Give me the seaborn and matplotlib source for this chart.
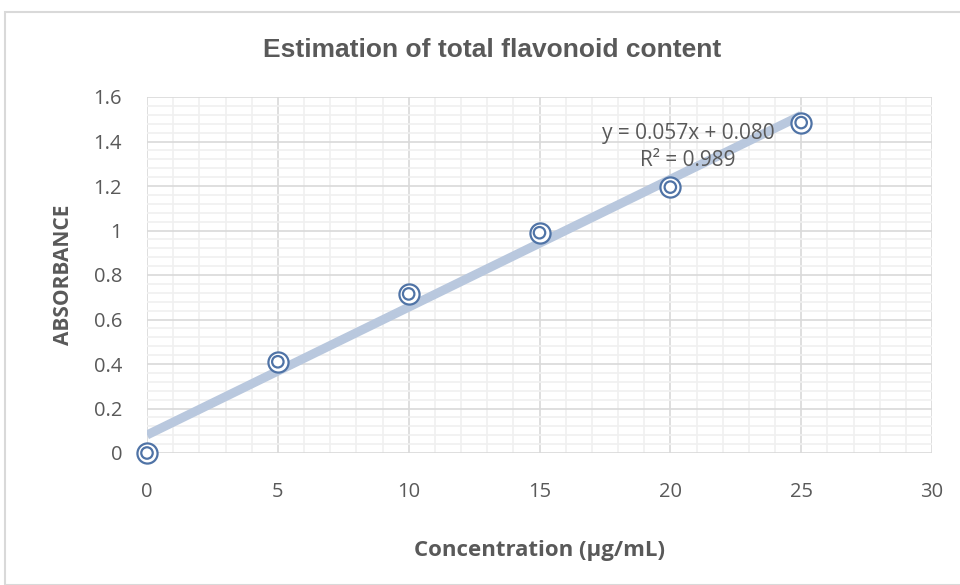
"""
flavonoid calibration curve - absorbance vs concentration with linear trendline
"""
import matplotlib
matplotlib.use("Agg")
import matplotlib.pyplot as plt
from matplotlib.patches import Rectangle
from matplotlib.ticker import MultipleLocator
import seaborn as sns
import pandas as pd

conc = [0, 5, 10, 15, 20, 25]
absorbance = [0.0, 0.41, 0.715, 0.99, 1.195, 1.485]
title = "Estimation of total flavonoid content"
x_label = "Concentration (\u00b5g/mL)"
y_label = "ABSORBANCE"
eq_text = "y = 0.057x + 0.080\nR\u00b2 = 0.989"

df = pd.DataFrame({"conc": conc, "abs": absorbance})

sns.set_style("white")
plt.rcParams["font.family"] = ["Open Sans", "DejaVu Sans"]

fig = plt.figure(figsize=(9.6, 5.85), dpi=100)
# light frame round the chart area like the excel chart box
fig.patches.append(Rectangle((5 / 960, 0), 1, 1 - 12 / 585, transform=fig.transFigure,
                             fill=False, edgecolor="#d9d9d9", lw=1.5))
ax = fig.add_axes([147 / 960, 1 - 453 / 585, 785 / 960, 356 / 585])

# trendline (regplot does the fit)
sns.regplot(data=df, x="conc", y="abs", ax=ax, ci=None, scatter=False,
            line_kws=dict(color="#b9c8de", lw=6.5, solid_capstyle="butt", zorder=3))

# double circle markers
mk = "#4f73a6"
sns.scatterplot(data=df, x="conc", y="abs", ax=ax, marker="o", s=210,
                facecolor="white", edgecolor=mk, linewidth=1.6, zorder=4, clip_on=False)
sns.scatterplot(data=df, x="conc", y="abs", ax=ax, marker="o", s=68,
                facecolor="none", edgecolor=mk, linewidth=1.6, zorder=5, clip_on=False)

ax.set_xlim(0, 30)
ax.set_ylim(0, 1.6)
ax.xaxis.set_major_locator(MultipleLocator(5))
ax.xaxis.set_minor_locator(MultipleLocator(1))
ax.yaxis.set_major_locator(MultipleLocator(0.2))
ax.yaxis.set_minor_locator(MultipleLocator(0.04))
ax.grid(which="major", color="#d9d9d9", lw=1.2)
ax.grid(which="minor", color="#f0f0f0", lw=1.2)
ax.set_axisbelow(True)
for s in ax.spines.values():
    s.set_visible(False)

ax.tick_params(which="both", length=0, labelsize=14.5, labelcolor="#595959")
ax.tick_params(axis="x", pad=21)
ax.tick_params(axis="y", pad=18)
ax.set_yticks([0, 0.2, 0.4, 0.6, 0.8, 1, 1.2, 1.4, 1.6])
ax.set_yticklabels(["0", "0.2", "0.4", "0.6", "0.8", "1", "1.2", "1.4", "1.6"])

ax.set_xlabel(x_label, fontsize=16, fontweight="bold", color="#595959", labelpad=27)
ax.set_ylabel(y_label, fontsize=15, fontweight="bold", color="#595959", labelpad=14)

fig.text(492 / 960, 1 - 50 / 585, title, ha="center", va="center", fontsize=19,
         fontweight="bold", color="#595959",
         family=["Liberation Sans Narrow", "Liberation Sans", "DejaVu Sans"])

ax.text(688 / 960, 1 - 147 / 585, eq_text, transform=fig.transFigure, ha="center",
        va="center", fontsize=15, color="#595959", linespacing=1.35, zorder=6)

fig.savefig("out.png", dpi=100)
